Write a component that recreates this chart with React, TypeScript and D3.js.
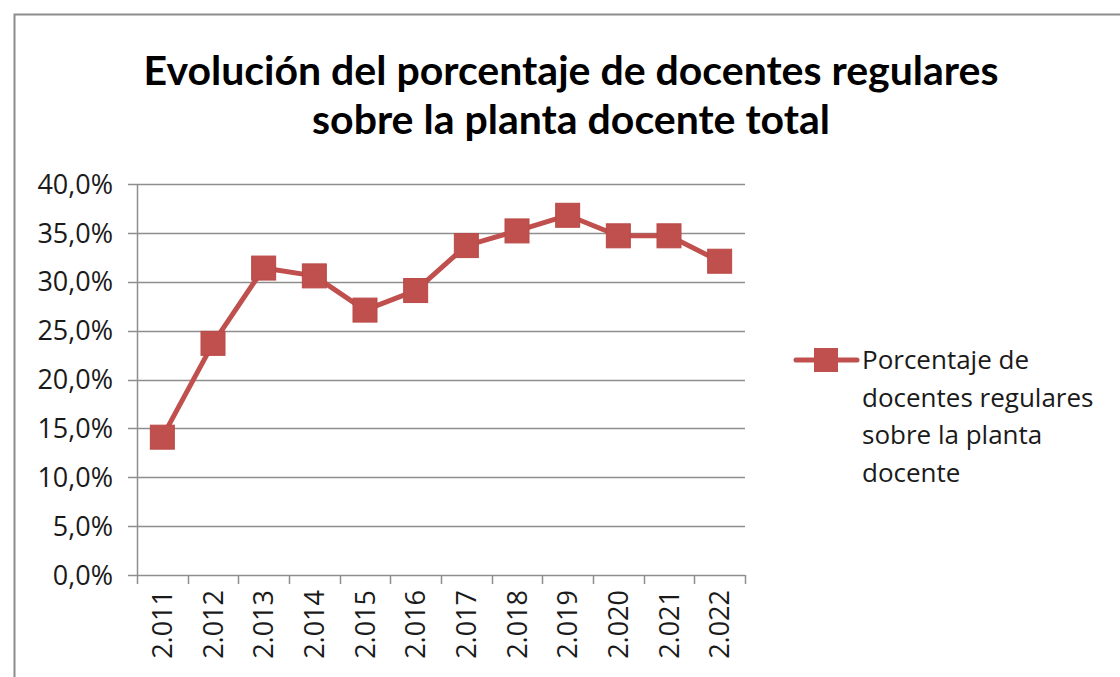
import React, { useEffect, useRef } from 'react';
import * as d3 from 'd3';

const years = ['2.011', '2.012', '2.013', '2.014', '2.015', '2.016', '2.017', '2.018', '2.019', '2.020', '2.021', '2.022'];
const pct = [14.1, 23.7, 31.4, 30.6, 27.1, 29.1, 33.7, 35.2, 36.8, 34.7, 34.7, 32.1];
const yTicks = [0, 5, 10, 15, 20, 25, 30, 35, 40];
const titleLines = ['Evolución del porcentaje de docentes regulares', 'sobre la planta docente total'];
const legendLines = ['Porcentaje de', 'docentes regulares', 'sobre la planta', 'docente'];

const W = 1120;
const H = 677;
const RED = '#C0504D';
const TITLE_FONT = 'Lato, "Open Sans", sans-serif';
const FONT = '"Open Sans", Lato, sans-serif';

const App = () => {
  const ref = useRef<SVGSVGElement>(null);

  useEffect(() => {
    const svg = d3.select(ref.current);
    svg.selectAll('*').remove();

    // frame
    svg.append('path')
      .attr('d', `M14.5,${H} L14.5,14.5 L${W},14.5`)
      .attr('fill', 'none')
      .attr('stroke', '#8c8c8c')
      .attr('stroke-width', 2);

    // title
    svg.append('g').selectAll('text')
      .data(titleLines)
      .join('text')
      .attr('x', 571)
      .attr('y', (d, i) => 85 + i * 49)
      .attr('text-anchor', 'middle')
      .style('font-family', TITLE_FONT)
      .style('font-weight', 'bold')
      .style('font-size', '41px')
      .attr('fill', '#000')
      .text(d => d);

    const x = d3.scaleBand().domain(years).range([137, 745]);
    const y = d3.scaleLinear().domain([0, 40]).range([575, 184]);

    // gridlines
    svg.append('g').selectAll('line')
      .data(yTicks)
      .join('line')
      .attr('x1', 128)
      .attr('x2', 745)
      .attr('y1', d => Math.round(y(d)) + 0.5)
      .attr('y2', d => Math.round(y(d)) + 0.5)
      .attr('stroke', '#8e8e8e')
      .attr('stroke-width', 1.5);

    // y labels
    svg.append('g').selectAll('text')
      .data(yTicks)
      .join('text')
      .attr('x', 113)
      .attr('y', d => y(d))
      .attr('dy', '0.36em')
      .attr('text-anchor', 'end')
      .style('font-family', FONT)
      .style('font-size', '27px')
      .attr('fill', '#1a1a1a')
      .text(d => d.toFixed(1).replace('.', ',') + '%');

    // y axis line
    svg.append('line')
      .attr('x1', 137.5).attr('x2', 137.5)
      .attr('y1', 184).attr('y2', 575)
      .attr('stroke', '#8e8e8e')
      .attr('stroke-width', 1.5);

    // x ticks
    const edges = years.map(d => x(d) as number).concat([745]);
    svg.append('g').selectAll('line')
      .data(edges)
      .join('line')
      .attr('x1', d => Math.round(d) + 0.5)
      .attr('x2', d => Math.round(d) + 0.5)
      .attr('y1', 575)
      .attr('y2', 584)
      .attr('stroke', '#8e8e8e')
      .attr('stroke-width', 1.5);

    // x labels
    svg.append('g').selectAll('text')
      .data(years)
      .join('text')
      .attr('transform', d => `translate(${(x(d) as number) + x.bandwidth() / 2},590) rotate(-90)`)
      .attr('text-anchor', 'end')
      .attr('dy', '0.36em')
      .style('font-family', FONT)
      .style('font-size', '27px')
      .attr('fill', '#1a1a1a')
      .text(d => d);

    // series
    const line = d3.line<number>()
      .x((d, i) => (x(years[i]) as number) + x.bandwidth() / 2)
      .y(d => y(d));

    svg.append('path')
      .datum(pct)
      .attr('d', line)
      .attr('fill', 'none')
      .attr('stroke', RED)
      .attr('stroke-width', 5)
      .attr('stroke-linejoin', 'round');

    const S = 24;
    svg.append('g').selectAll('rect')
      .data(pct)
      .join('rect')
      .attr('x', (d, i) => (x(years[i]) as number) + x.bandwidth() / 2 - S / 2)
      .attr('y', d => y(d) - S / 2)
      .attr('width', S)
      .attr('height', S)
      .attr('fill', RED)
      .attr('stroke', '#b94a47')
      .attr('stroke-width', 1);

    // legend
    const lg = svg.append('g');
    lg.append('line')
      .attr('x1', 796).attr('x2', 857)
      .attr('y1', 360).attr('y2', 360)
      .attr('stroke', RED)
      .attr('stroke-width', 5)
      .attr('stroke-linecap', 'round');
    lg.append('rect')
      .attr('x', 826 - S / 2).attr('y', 360 - S / 2)
      .attr('width', S).attr('height', S)
      .attr('fill', RED);
    lg.selectAll('text')
      .data(legendLines)
      .join('text')
      .attr('x', 862)
      .attr('y', (d, i) => 360 + i * 37.5)
      .attr('dy', '0.36em')
      .style('font-family', FONT)
      .style('font-size', '26px')
      .attr('fill', '#1a1a1a')
      .text(d => d);
  }, []);

  return (
    <svg ref={ref} width={W} height={H} style={{ position: 'absolute', left: 0, top: 0, background: '#fff' }} />
  );
};

export default App;
